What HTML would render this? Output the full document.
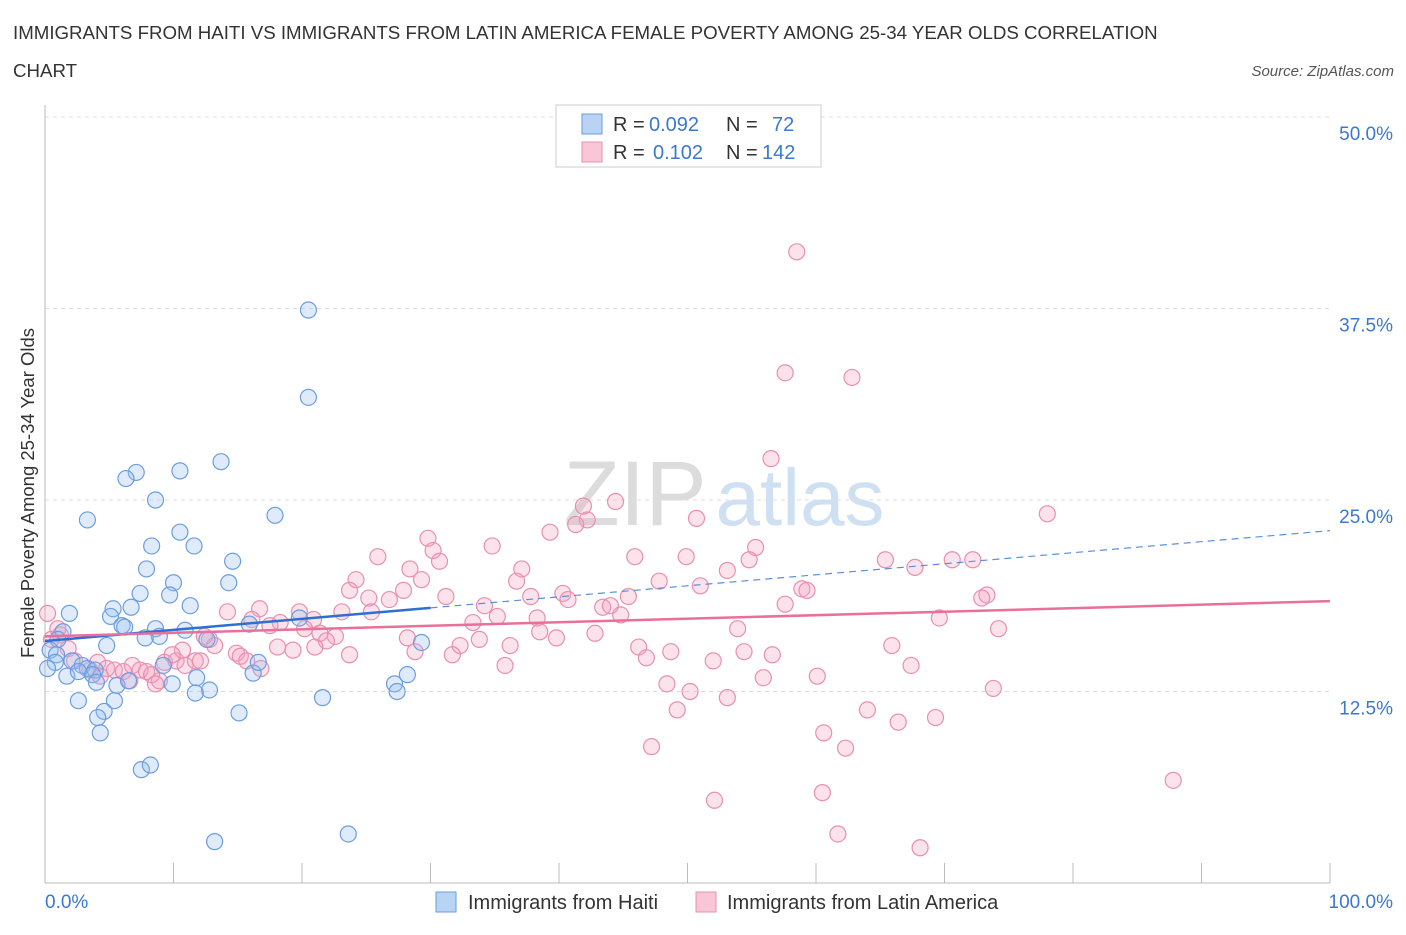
<!DOCTYPE html>
<html><head><meta charset="utf-8"><style>
body{margin:0;background:#fff;font-family:"Liberation Sans",sans-serif;}
svg text{font-family:"Liberation Sans",sans-serif;}
</style></head><body>
<svg id="chart" width="1406" height="930" xmlns="http://www.w3.org/2000/svg">
<text x="13" y="39" font-size="18.7" fill="#333">IMMIGRANTS FROM HAITI VS IMMIGRANTS FROM LATIN AMERICA FEMALE POVERTY AMONG 25-34 YEAR OLDS CORRELATION</text>
<text x="13" y="77" font-size="18.7" fill="#333">CHART</text>
<text x="1394" y="76" font-size="15" font-style="italic" fill="#555" text-anchor="end">Source: ZipAtlas.com</text>
<g>
<text x="635" y="525" font-size="92" font-family="Liberation Serif,serif" fill="#dcdcdc" text-anchor="middle">ZIP</text>
<text x="800" y="525" font-size="80" fill="#cfe0f3" text-anchor="middle">atlas</text>
</g>
<g id="grid"></g>
<g id="axes"></g>
<text transform="translate(34,493) rotate(-90)" font-size="18.5" fill="#333" text-anchor="middle">Female Poverty Among 25-34 Year Olds</text>
<g id="marks"></g>
<g>
<rect x="556" y="105" width="265" height="62" fill="#fff" stroke="#ccc"/>
<rect x="582" y="114" width="20" height="20" fill="#b9d3f5" stroke="#6b9ee0"/>
<text y="131" font-size="20" fill="#333"><tspan x="613">R =</tspan><tspan x="649" fill="#3b78d0">0.092</tspan><tspan x="726">N =</tspan><tspan x="772" fill="#3b78d0">72</tspan></text>
<rect x="582" y="142" width="20" height="20" fill="#f8c6d6" stroke="#e890ae"/>
<text y="159" font-size="20" fill="#333"><tspan x="613">R =</tspan><tspan x="653" fill="#3b78d0">0.102</tspan><tspan x="726">N =</tspan><tspan x="762" fill="#3b78d0">142</tspan></text>
</g>
<g>
<rect x="436" y="892" width="20" height="20" fill="#b9d3f5" stroke="#6b9ee0"/>
<text x="468" y="909" font-size="20" fill="#333">Immigrants from Haiti</text>
<rect x="696" y="892" width="20" height="20" fill="#f8c6d6" stroke="#e890ae"/>
<text x="727" y="909" font-size="20" fill="#333">Immigrants from Latin America</text>
</g>
</svg>
<script>
const yTicks=[12.5,25,37.5,50];
const yTickLabels=["12.5%","25.0%","37.5%","50.0%"];
const xTickLabels=["0.0%","100.0%"];
const haitiX=[20.5,20.5,13.7,7.1,6.3,10.5,8.6,3.3,17.9,10.5,11.6,8.3,14.6,7.9,10.0,14.3,7.4,9.7,5.3,6.7,11.3,1.9,5.1,6.0,6.2,1.4,10.9,8.6,8.9,7.8,1.0,4.8,0.4,0.9,2.1,2.9,3.3,3.9,0.8,0.2,1.7,2.6,3.7,4.0,5.6,6.5,9.9,11.8,12.8,11.7,16.2,16.6,15.9,19.8,29.3,28.2,27.2,27.4,21.6,2.6,5.4,4.6,4.1,4.3,15.1,7.5,8.2,23.6,13.2,12.6,9.2];
const haitiY=[37.4,31.7,27.5,26.8,26.4,26.9,25.0,23.7,24.0,22.9,22.0,22.0,21.0,20.5,19.6,19.6,18.9,18.8,17.9,18.0,18.1,17.6,17.4,16.8,16.7,16.4,16.5,16.6,16.1,16.0,15.9,15.5,15.2,14.9,14.5,14.2,14.0,13.9,14.4,14.0,13.5,13.8,13.6,13.1,12.9,13.2,13.0,13.4,12.6,12.4,13.7,14.4,16.9,17.3,15.7,13.6,13.0,12.5,12.1,11.9,11.9,11.2,10.8,9.8,11.1,7.4,7.7,3.2,2.7,15.9,14.2];
const latinX=[58.5,57.6,62.8,56.5,44.4,41.9,78.0,50.7,42.2,41.3,39.3,29.8,34.8,30.2,25.9,30.7,45.9,49.9,55.3,54.8,65.4,70.6,72.2,67.7,53.1,37.1,24.2,28.4,29.3,36.7,47.8,51.0,23.7,26.8,27.9,25.2,40.3,40.7,37.8,31.2,34.2,43.4,45.4,44.0,44.8,58.9,59.3,57.6,73.3,72.9,69.6,74.2,14.2,16.7,19.8,23.1,20.9,18.3,16.1,17.5,20.2,21.4,22.6,21.9,25.4,35.2,38.3,33.3,38.5,42.8,39.8,53.9,12.8,13.2,12.4,0.2,1.0,1.2,0.5,1.8,2.3,3.5,4.1,4.8,5.4,6.1,6.8,7.4,7.9,8.9,8.3,9.3,10.2,10.9,11.7,12.1,10.7,9.9,14.9,15.2,15.7,16.8,18.1,19.3,21.0,28.2,28.8,32.3,31.7,33.8,36.2,35.8,46.2,46.8,48.7,52.0,54.4,56.6,60.1,65.9,67.4,55.9,48.4,50.2,53.1,49.2,73.8,64.0,66.4,69.3,60.6,47.2,62.3,87.8,52.1,60.5,61.7,68.1,6.6,8.6,4.3,23.7];
const latinY=[41.2,33.3,33.0,27.7,24.9,24.6,24.1,23.8,23.7,23.4,22.9,22.5,22.0,21.7,21.3,21.0,21.3,21.3,21.9,21.1,21.1,21.1,21.1,20.6,20.4,20.5,19.8,20.5,19.8,19.7,19.7,19.4,19.1,18.5,19.1,18.6,18.9,18.5,18.7,18.7,18.1,18.0,18.7,18.1,17.5,19.2,19.1,18.2,18.8,18.6,17.3,16.6,17.7,17.9,17.7,17.7,17.2,17.0,17.2,16.8,16.6,16.3,16.1,15.8,17.7,17.4,17.3,17.0,16.4,16.3,16.0,16.6,15.9,15.5,16.1,17.6,16.6,16.2,15.9,15.3,14.5,13.9,14.4,14.0,13.9,13.8,14.2,13.9,13.8,13.2,13.6,14.4,14.5,14.2,14.5,14.5,15.2,14.9,15.0,14.8,14.5,14.0,15.4,15.2,15.4,16.0,15.1,15.5,14.9,15.9,15.5,14.2,15.4,14.7,15.1,14.5,15.1,14.9,13.5,15.5,14.2,13.4,13.0,12.5,12.1,11.3,12.7,11.3,10.5,10.8,9.8,8.9,8.8,6.7,5.4,5.9,3.2,2.3,13.2,13.0,13.5,14.9];
const haitiTrend=[15.8,0.072];   // intercept, slope per % x
const latinTrend=[16.1,0.023];
const X0=45,X1=1330,YB=883,YT=117;
const sx=v=>X0+(X1-X0)*v/100;
const sy=v=>YB-(YB-YT)*v/50;
const NS="http://www.w3.org/2000/svg";
function mk(tag,attrs,parent){const e=document.createElementNS(NS,tag);for(const k in attrs)e.setAttribute(k,attrs[k]);parent.appendChild(e);return e;}
const grid=document.getElementById('grid'),axes=document.getElementById('axes'),marks=document.getElementById('marks');
yTicks.forEach((t,i)=>{
  const l=mk('line',{x1:X0,x2:1330,y1:sy(t),y2:sy(t),stroke:'#ddd','stroke-dasharray':'4,4'},grid);
  
  
  const tx=mk('text',{x:1393,y:sy(t)+23,'font-size':19,fill:'#3b78d0','text-anchor':'end'},axes);
  tx.textContent=yTickLabels[i];
  
  
});
let a=mk('line',{x1:X0,x2:X0,y1:105,y2:YB,stroke:'#bbb'},axes);


a=mk('line',{x1:X0,x2:X1,y1:YB,y2:YB,stroke:'#bbb'},axes);


for(let i=1;i<=10;i++){const x=sx(i*10);const t=mk('line',{x1:x,x2:x,y1:863,y2:YB,stroke:'#bbb'},axes);
  
  }
let xl=mk('text',{x:45,y:908,'font-size':19,fill:'#3b78d0'},axes);xl.textContent=xTickLabels[0];


xl=mk('text',{x:1393,y:908,'font-size':19,fill:'#3b78d0','text-anchor':'end'},axes);xl.textContent=xTickLabels[1];


latinX.forEach((v,i)=>{const c=mk('circle',{cx:sx(v),cy:sy(latinY[i]),r:8,fill:'rgba(244,160,190,0.3)',stroke:'#e98fb0','stroke-width':1.2},marks);
  
  });
haitiX.forEach((v,i)=>{const c=mk('circle',{cx:sx(v),cy:sy(haitiY[i]),r:8,fill:'rgba(150,190,240,0.3)',stroke:'#6b9ee0','stroke-width':1.2},marks);
  
  });
let ln=mk('line',{x1:sx(0),y1:sy(haitiTrend[0]),x2:sx(30),y2:sy(haitiTrend[0]+haitiTrend[1]*30),stroke:'#2f6fd0','stroke-width':2.5},marks);


ln=mk('line',{x1:sx(30),y1:sy(haitiTrend[0]+haitiTrend[1]*30),x2:sx(100),y2:sy(haitiTrend[0]+haitiTrend[1]*100),stroke:'#5a8fdc','stroke-width':1.2,'stroke-dasharray':'7,5'},marks);


ln=mk('line',{x1:sx(0),y1:sy(latinTrend[0]),x2:sx(100),y2:sy(latinTrend[0]+latinTrend[1]*100),stroke:'#e8709a','stroke-width':2.5},marks);


</script>
</body></html>
